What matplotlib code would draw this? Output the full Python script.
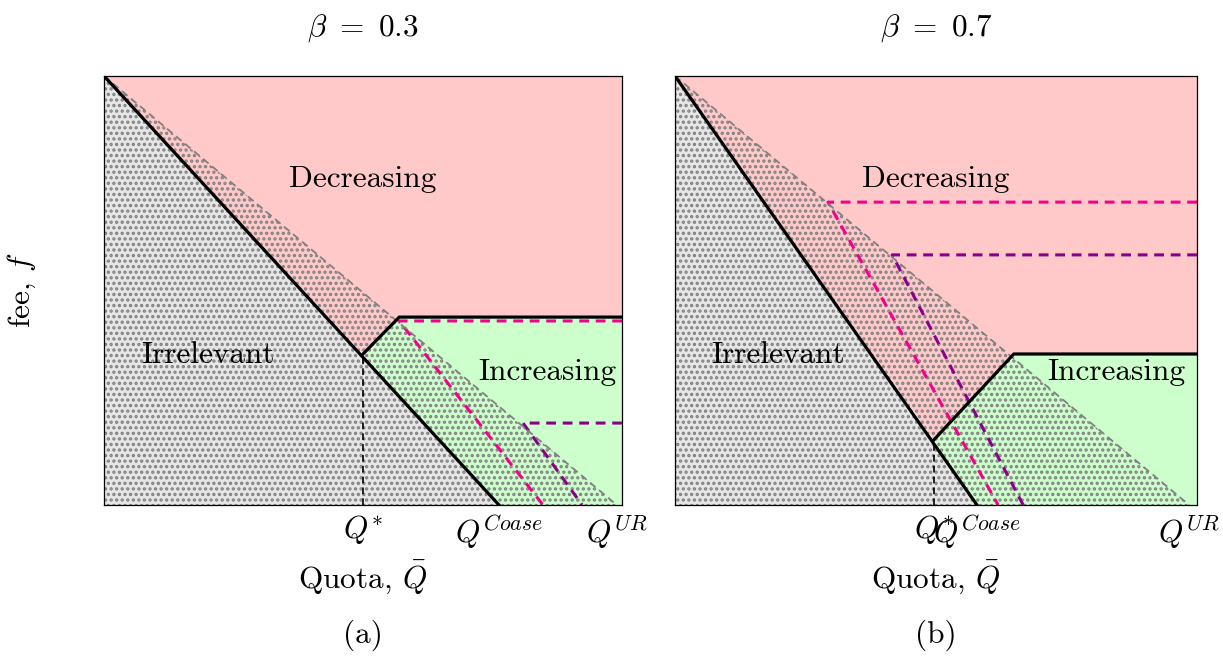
"""Two-panel diagram of quota/fee regions for two values of beta."""

import matplotlib.pyplot as plt

plt.rcParams["font.family"] = "serif"
plt.rcParams["font.serif"] = ["cmr10", "DejaVu Serif"]
plt.rcParams["mathtext.fontset"] = "cm"
plt.rcParams["axes.unicode_minus"] = False
plt.rcParams["hatch.linewidth"] = 1.6

# Panel data in axis units (quota on x, fee on y, both scaled to [0, 1])
BETAS = [0.3, 0.7]
PANEL_TAGS = ["(a)", "(b)"]
Q_STAR = [0.500, 0.496]          # kink on the black boundary
F_STAR = [0.352, 0.152]
Q_COASE = [0.7625, 0.5785]       # black boundary meets the axis
Q_KINK = [0.570, 0.649]          # upper corner of the kink
F_KINK = [0.438, 0.352]
Q_UR = [0.990, 0.985]            # gray dashed boundary meets the axis

# Dashed fee schedules: (start quota, fee level, axis crossing)
PINK_PATH = [(0.570, 0.429, 0.8475), (0.293, 0.706, 0.619)]
PURPLE_PATH = [(0.809, 0.191, 0.923), (0.416, 0.583, 0.667)]

# Region label positions
LABEL_POS = {
    "Decreasing": [(0.5, 0.76), (0.5, 0.76)],
    "Irrelevant": [(0.20, 0.35), (0.198, 0.35)],
    "Increasing": [(0.855, 0.31), (0.845, 0.31)],
}

PINK = "#ffc9c9"
GREEN = "#ccffcc"
GRAY = "#e6e6e6"
DOTS = "#808080"
MAGENTA = "#f5008c"
PURPLE = "#8b008b"
FS = 22.5

W, H = 1223, 656
fig = plt.figure(figsize=(W / 100, H / 100), dpi=100)
boxes = [(104, 518), (675, 522)]

for i, (x0, wpx) in enumerate(boxes):
    ax = fig.add_axes([x0 / W, 151 / H, wpx / W, 429 / H])
    ax.set_xlim(0, 1)
    ax.set_ylim(0, 1)

    qs, fs_, qc = Q_STAR[i], F_STAR[i], Q_COASE[i]
    qk, fk, qe = Q_KINK[i], F_KINK[i], Q_UR[i]

    # Filled regions
    ax.fill([0, 1, 1, qk, qs, 0], [1, 1, fk, fk, fs_, 1], color=PINK, lw=0)
    ax.fill([qs, qk, 1, 1, qc], [fs_, fk, fk, 0, 0], color=GREEN, lw=0)
    ax.fill([0, 0, qc], [0, 1, 0], facecolor=GRAY, edgecolor=DOTS,
            hatch="...", lw=0)
    ax.fill([0, qe, qc], [1, 0, 0], facecolor="none", edgecolor=DOTS,
            hatch="...", lw=0)

    # Dashed fee paths
    for path, col in [(PINK_PATH[i], MAGENTA), (PURPLE_PATH[i], PURPLE)]:
        q0, f0, q1 = path
        ax.plot([1, q0, q1], [f0, f0, 0], color=col, lw=2.2,
                dashes=(3.2, 2.2), solid_capstyle="butt")

    # Boundaries
    ax.plot([0, qe], [1, 0], color="#808080", lw=1.3, dashes=(4, 2.5))
    ax.plot([0, qc], [1, 0], color="black", lw=2.3)
    ax.plot([qs, qk, 1], [fs_, fk, fk], color="black", lw=2.3)
    ax.plot([qs, qs], [0, fs_], color="black", lw=1.2, dashes=(4, 2.5))

    for name, pos in LABEL_POS.items():
        x, y = pos[i]
        ax.text(x, y, name, fontsize=FS, ha="center", va="center")

    ax.set_xticks([qs, qc, qe],
                  [r"$Q^{*}$", r"$Q^{Coase}$", r"$Q^{UR}$"], fontsize=FS)
    ax.set_yticks([])
    ax.tick_params(axis="x", length=0, pad=6)
    for sp in ax.spines.values():
        sp.set_linewidth(0.9)

    xc = (x0 + wpx / 2) / W
    fig.text(xc, 1 - 28 / H, rf"$\beta\ =\ {BETAS[i]}$", fontsize=FS,
             ha="center", va="center")
    fig.text(xc, 1 - 577 / H, r"Quota, $\bar{Q}$", fontsize=FS,
             ha="center", va="center")
    fig.text(xc, 1 - 635 / H, PANEL_TAGS[i], fontsize=FS,
             ha="center", va="center")

fig.text(22 / W, 1 - 290 / H, r"fee, $f$", fontsize=FS, rotation=90,
         ha="center", va="center")

fig.savefig("out.png", dpi=100)
